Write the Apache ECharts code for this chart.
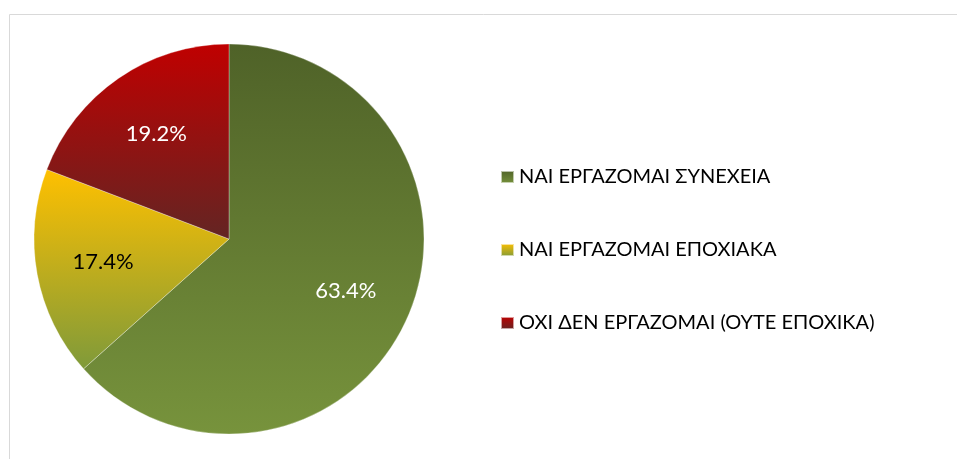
<!DOCTYPE html>
<html>
<head>
<meta charset="utf-8">
<script src="https://cdn.jsdelivr.net/npm/echarts@6/dist/echarts.min.js"></script>
<style>
  html, body { margin: 0; padding: 0; background: #fff; }
  #pieChart { width: 957px; height: 459px; }
</style>
</head>
<body>
<div id="pieChart"></div>
<script>
// categories and shares (%)
const categories = ['ΝΑΙ ΕΡΓΑΖΟΜΑΙ ΣΥΝΕΧΕΙΑ', 'ΝΑΙ ΕΡΓΑΖΟΜΑΙ ΕΠΟΧΙΑΚΑ', 'ΟΧΙ ΔΕΝ ΕΡΓΑΖΟΜΑΙ (ΟΥΤΕ ΕΠΟΧΙΚΑ)'];
const shares = [63.4, 17.4, 19.2];
// top / bottom gradient stops of each slice
const topColors = ['#4f6228', '#ffc000', '#c00000'];
const bottomColors = ['#77933c', '#7f9a3a', '#632523'];
const labelColors = ['#ffffff', '#000000', '#ffffff'];

(function () {
    'use strict';

    let chart = echarts.init(document.getElementById('pieChart'));

    function grad(i) {
        return new echarts.graphic.LinearGradient(0, 0, 0, 1, [
            { offset: 0, color: topColors[i] },
            { offset: 1, color: bottomColors[i] }
        ]);
    }

    let sliceData = categories.map(function (name, i) {
        return { name: name, value: shares[i], itemStyle: { color: grad(i) } };
    });

    // transparent ring only used to place the percentage labels further out
    let labelData = categories.map(function (name, i) {
        return {
            name: name,
            value: shares[i],
            label: { color: labelColors[i] }
        };
    });

    let option = {
        animation: false,
        graphic: [{
            type: 'rect',
            shape: { x: 9.5, y: 14.5, width: 1000, height: 500 },
            style: { fill: 'none', stroke: '#d9d9d9', lineWidth: 1 },
            silent: true
        }],
        legend: {
            orient: 'vertical',
            left: 495,
            top: 162,
            itemWidth: 13,
            itemHeight: 12,
            itemGap: 53,
            icon: 'rect',
            data: categories,
            textStyle: { fontFamily: 'Lato', fontSize: 20, color: '#000' }
        },
        series: [{
            type: 'pie',
            center: [229, 239],
            radius: [0, 195],
            startAngle: 90,
            clockwise: true,
            silent: true,
            label: { show: false },
            labelLine: { show: false },
            itemStyle: { borderColor: 'rgba(255,255,255,0.6)', borderWidth: 0.5 },
            data: sliceData
        }, {
            type: 'pie',
            center: [229, 239],
            radius: [55, 195],
            startAngle: 90,
            clockwise: true,
            silent: true,
            itemStyle: { color: 'rgba(0,0,0,0)' },
            label: {
                show: true,
                position: 'inside',
                fontFamily: 'Lato',
                fontSize: 22,
                formatter: function (p) { return p.value.toFixed(1) + '%'; }
            },
            labelLine: { show: false },
            data: labelData
        }]
    };

    chart.setOption(option);
})();
</script>
</body>
</html>
